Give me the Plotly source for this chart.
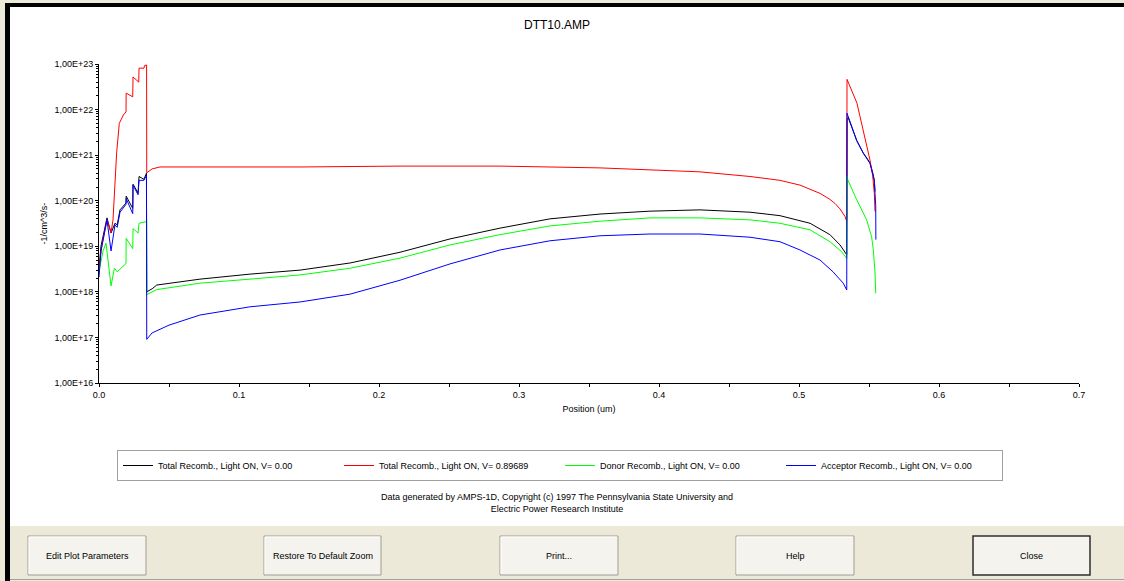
import plotly.graph_objects as go

# ---- Recombination profiles (position in um, rate in 1/cm^3/s) ----
pos_total_v0 = [0.0000, 0.0014, 0.0057, 0.0086, 0.0114, 0.0130, 0.0150, 0.0180, 0.0193, 0.0194,
                0.0241, 0.0243, 0.0279, 0.0286, 0.0321, 0.0339, 0.0341, 0.0380, 0.0412, 0.0721,
                0.1079, 0.1436, 0.1793, 0.2150, 0.2507, 0.2864, 0.3221, 0.3579, 0.3936, 0.4293,
                0.4650, 0.4864, 0.5079, 0.5221, 0.5293, 0.5341, 0.5343, 0.5352, 0.5380, 0.5412,
                0.5459, 0.5507, 0.5526, 0.5538, 0.5543]
rate_total_v0 = [3.2e18, 1.0e19, 4.2e19, 1.95e19, 3.2e19, 2.95e19, 6.3e19, 8.3e19, 8.9e19, 1.26e20,
                 6.8e19, 2.3e20, 1.48e20, 3.4e20, 2.95e20, 4.0e20, 1.0e18, 1.17e18, 1.41e18, 1.9e18,
                 2.45e18, 3.0e18, 4.3e18, 7.4e18, 1.45e19, 2.5e19, 4.0e19, 5.1e19, 5.9e19, 6.3e19,
                 5.6e19, 4.7e19, 3.2e19, 1.8e19, 1.07e19, 6.5e18, 6.3e21, 6.6e21, 3.8e21, 2.1e21,
                 1.12e21, 6.8e20, 4.2e20, 2.8e20, 1.6e20]

pos_total_v089 = [0.0000, 0.0020, 0.0057, 0.0086, 0.0100, 0.0126, 0.0145, 0.0174, 0.0193, 0.0194,
                  0.0241, 0.0243, 0.0284, 0.0286, 0.0321, 0.0326, 0.0340, 0.0341, 0.0380, 0.0436,
                  0.0721, 0.1436, 0.2150, 0.2864, 0.3579, 0.3936, 0.4293, 0.4650, 0.4864, 0.5007,
                  0.5150, 0.5221, 0.5257, 0.5293, 0.5329, 0.5341, 0.5343, 0.5414, 0.5471, 0.5507,
                  0.5526, 0.5538, 0.5543]
rate_total_v089 = [3.5e18, 1.0e19, 3.8e19, 2.0e19, 3.8e19, 1.12e21, 5.0e21, 7.6e21, 8.9e21, 2.3e22,
                   1.9e22, 5.2e22, 4.0e22, 8.1e22, 8.1e22, 9.3e22, 9.5e22, 4.1e20, 5.0e20, 5.5e20,
                   5.5e20, 5.5e20, 5.75e20, 5.75e20, 5.25e20, 4.8e20, 4.3e20, 3.4e20, 2.8e20, 2.2e20,
                   1.45e20, 1.07e20, 8.7e19, 6.6e19, 4.5e19, 3.5e19, 4.6e22, 1.38e22, 2.5e21, 7.8e20,
                   3.6e20, 1.45e20, 5.8e19]

pos_donor_v0 = [0.0000, 0.0029, 0.0050, 0.0086, 0.0110, 0.0130, 0.0193, 0.0194, 0.0241, 0.0243,
                0.0279, 0.0286, 0.0340, 0.0341, 0.0412, 0.0721, 0.1079, 0.1436, 0.1793, 0.2150,
                0.2507, 0.2864, 0.3221, 0.3579, 0.3936, 0.4293, 0.4650, 0.4864, 0.5079, 0.5221,
                0.5305, 0.5341, 0.5343, 0.5350, 0.5412, 0.5483, 0.5519, 0.5531, 0.5543, 0.5548]
rate_donor_v0 = [2.8e18, 7.9e18, 1.17e19, 1.35e18, 3.3e18, 2.75e18, 4.2e18, 1.5e19, 8.9e18, 2.45e19,
                 1.95e19, 3.2e19, 3.5e19, 8.7e17, 1.12e18, 1.55e18, 1.9e18, 2.35e18, 3.3e18, 5.5e18,
                 1.07e19, 1.8e19, 2.8e19, 3.55e19, 4.2e19, 4.2e19, 3.8e19, 3.2e19, 2.3e19, 1.26e19,
                 7.6e18, 5.4e18, 3.4e20, 2.8e20, 1.05e20, 3.8e19, 1.6e19, 8.3e18, 2.6e18, 9.3e17]

pos_acceptor_v0 = [0.0000, 0.0014, 0.0057, 0.0086, 0.0114, 0.0130, 0.0150, 0.0180, 0.0193, 0.0194,
                   0.0241, 0.0243, 0.0279, 0.0286, 0.0321, 0.0339, 0.0341, 0.0380, 0.0500, 0.0721,
                   0.1079, 0.1436, 0.1793, 0.2150, 0.2507, 0.2864, 0.3221, 0.3579, 0.3936, 0.4293,
                   0.4650, 0.4864, 0.5007, 0.5150, 0.5243, 0.5316, 0.5341, 0.5343, 0.5352, 0.5380,
                   0.5412, 0.5459, 0.5507, 0.5526, 0.5538, 0.5543, 0.5548, 0.5549]
rate_acceptor_v0 = [2.1e18, 7.9e18, 3.8e19, 7.9e18, 2.95e19, 2.6e19, 5.6e19, 7.6e19, 8.3e19, 1.12e20,
                    5.2e19, 2.2e20, 1.35e20, 2.8e20, 2.8e20, 3.6e20, 9.1e16, 1.26e17, 1.86e17, 3.1e17,
                    4.7e17, 6.0e17, 8.9e17, 1.8e18, 4.1e18, 8.3e18, 1.32e19, 1.7e19, 1.86e19, 1.86e19,
                    1.58e19, 1.26e19, 8.3e18, 5.0e18, 2.75e18, 1.55e18, 1.1e18, 8.3e21, 7.1e21, 4.0e21,
                    2.1e21, 1.1e21, 6.6e20, 4.0e20, 2.8e20, 1.45e20, 7.9e19, 1.4e19]

series_names = ["Total Recomb., Light ON, V= 0.00",
                "Total Recomb., Light ON, V= 0.89689",
                "Donor Recomb., Light ON, V= 0.00",
                "Acceptor Recomb., Light ON, V= 0.00"]

x_tick_vals = [0.0, 0.1, 0.2, 0.3, 0.4, 0.5, 0.6, 0.7]
x_tick_text = ["0.0", "0.1", "0.2", "0.3", "0.4", "0.5", "0.6", "0.7"]
y_tick_vals = [1e16, 1e17, 1e18, 1e19, 1e20, 1e21, 1e22, 1e23]
y_tick_text = ["1,00E+16", "1,00E+17", "1,00E+18", "1,00E+19",
               "1,00E+20", "1,00E+21", "1,00E+22", "1,00E+23"]

button_labels = ["Edit Plot Parameters", "Restore To Default Zoom", "Print...", "Help", "Close"]

FONT = "Liberation Sans, Arial, sans-serif"
W, H = 1124, 581
PL, PR, PT, PB = 99, 1079, 64, 383   # plot-area edges in pixels


def px_x(px):
    return (px - PL) / (PR - PL)


def px_y(py):
    return (PB - py) / (PB - PT)


fig = go.Figure()
curves = [
    (pos_total_v0, rate_total_v0, "#000000"),
    (pos_total_v089, rate_total_v089, "#FF0000"),
    (pos_donor_v0, rate_donor_v0, "#00FF00"),
    (pos_acceptor_v0, rate_acceptor_v0, "#0000FF"),
]
for (xs, ys, color), name in zip(curves, series_names):
    fig.add_trace(go.Scatter(x=xs, y=ys, mode="lines", name=name,
                             line=dict(color=color, width=1)))

minor_y = [k * 10.0 ** e for e in range(16, 23) for k in range(2, 10)]

axis_common = dict(showgrid=False, zeroline=False, automargin=False)
fig.update_layout(
    template="none",
    width=W, height=H, autosize=False,
    margin=dict(l=PL, r=W - PR, t=PT, b=H - PB, pad=0),
    paper_bgcolor="white", plot_bgcolor="white",
    font=dict(family=FONT, size=9, color="black"),
    title=dict(text="DTT10.AMP", x=557 / W, xref="container", xanchor="center",
               y=1 - 25 / H, yref="container", yanchor="middle",
               font=dict(family=FONT, size=12, color="black")),
    xaxis=dict(range=[0, 0.7], tickvals=x_tick_vals, ticktext=x_tick_text,
               ticks="outside", ticklen=3, tickcolor="black",
               minor=dict(tickvals=[0.05, 0.15, 0.25, 0.35, 0.45, 0.55, 0.65],
                          ticks="outside", ticklen=3, tickcolor="black"),
               showline=True, linecolor="black", linewidth=1,
               tickfont=dict(size=9),
               title=dict(text="Position (um)", font=dict(size=9), standoff=6),
               **axis_common),
    xaxis2=dict(range=[0, 0.7], overlaying="x", anchor="y", side="bottom",
                tickvals=x_tick_vals, ticks="inside", ticklen=3, tickcolor="black",
                minor=dict(tickvals=[0.05, 0.15, 0.25, 0.35, 0.45, 0.55, 0.65],
                           ticks="inside", ticklen=3, tickcolor="black"),
                showticklabels=False, showline=False, **axis_common),
    yaxis=dict(type="log", range=[16, 23], tickvals=y_tick_vals, ticktext=y_tick_text,
               ticks="outside", ticklen=3, tickcolor="black",
               minor=dict(tickvals=minor_y, ticks="outside", ticklen=2, tickcolor="black"),
               showline=True, linecolor="black", linewidth=1,
               tickfont=dict(size=9),
               title=dict(text="-1/cm^3/s-", font=dict(size=9), standoff=5),
               **axis_common),
    yaxis2=dict(type="log", range=[16, 23], overlaying="y", anchor="x", side="left",
                tickvals=y_tick_vals, ticks="inside", ticklen=3, tickcolor="black",
                minor=dict(tickvals=minor_y, ticks="inside", ticklen=2, tickcolor="black"),
                showticklabels=False, showline=False, **axis_common),
    legend=dict(orientation="h", x=px_x(117), y=px_y(450), xanchor="left", yanchor="top",
                bordercolor="#A0A0A0", borderwidth=1, bgcolor="white",
                font=dict(family=FONT, size=9, color="black"),
                entrywidth=176, entrywidthmode="pixels", itemwidth=30),
    showlegend=True,
)

# Credit line under the legend
fig.add_annotation(xref="paper", yref="paper", x=px_x(557), y=px_y(503),
                   xanchor="center", yanchor="middle", showarrow=False, align="center",
                   text="Data generated by AMPS-1D, Copyright (c) 1997 The Pennsylvania State University and"
                        "<br>Electric Power Research Institute",
                   font=dict(family=FONT, size=9, color="black"))

shapes = []


def rect_px(x0, y0, x1, y1, fill, line_color=None, line_width=0):
    shapes.append(dict(type="rect", xref="paper", yref="paper",
                       x0=px_x(x0), x1=px_x(x1), y0=px_y(y1), y1=px_y(y0),
                       fillcolor=fill, layer="above",
                       line=dict(color=line_color or fill, width=line_width)))


def line_px(x0, y0, x1, y1, color, width=1):
    shapes.append(dict(type="line", xref="paper", yref="paper",
                       x0=px_x(x0), x1=px_x(x1), y0=px_y(y0), y1=px_y(y1),
                       layer="above", line=dict(color=color, width=width)))


# Window frame
rect_px(0, 0, W, 3, "#ECE9D8")
rect_px(0, 0, 5, H, "#ECE9D8")
rect_px(5, 3, W, 7, "#000000")
rect_px(5, 3, 10, H, "#000000")

# Button panel
rect_px(10, 526, W, H, "#ECE9D8")
line_px(10, 579.5, W, 579.5, "#A0A0A0")

button_x = [(28, 146), (264, 381), (500, 618), (736, 854), (973, 1090)]
for (bx0, bx1), label in zip(button_x, button_labels):
    is_default = label == "Close"
    rect_px(bx0, 536, bx1, 575, "#F4F3EE",
            "#2E2E2E" if is_default else "#A09D94", 1.5 if is_default else 1)
    if not is_default:
        line_px(bx0 + 1, 537, bx1 - 1, 537, "#FFFFFF")
        line_px(bx0 + 1, 537, bx0 + 1, 574, "#FFFFFF")
    fig.add_annotation(xref="paper", yref="paper", x=px_x((bx0 + bx1) / 2), y=px_y(555.5),
                       xanchor="center", yanchor="middle", showarrow=False, text=label,
                       font=dict(family=FONT, size=9, color="black"))

fig.update_layout(shapes=shapes)

fig.write_html("out.html", config={"displayModeBar": False})
